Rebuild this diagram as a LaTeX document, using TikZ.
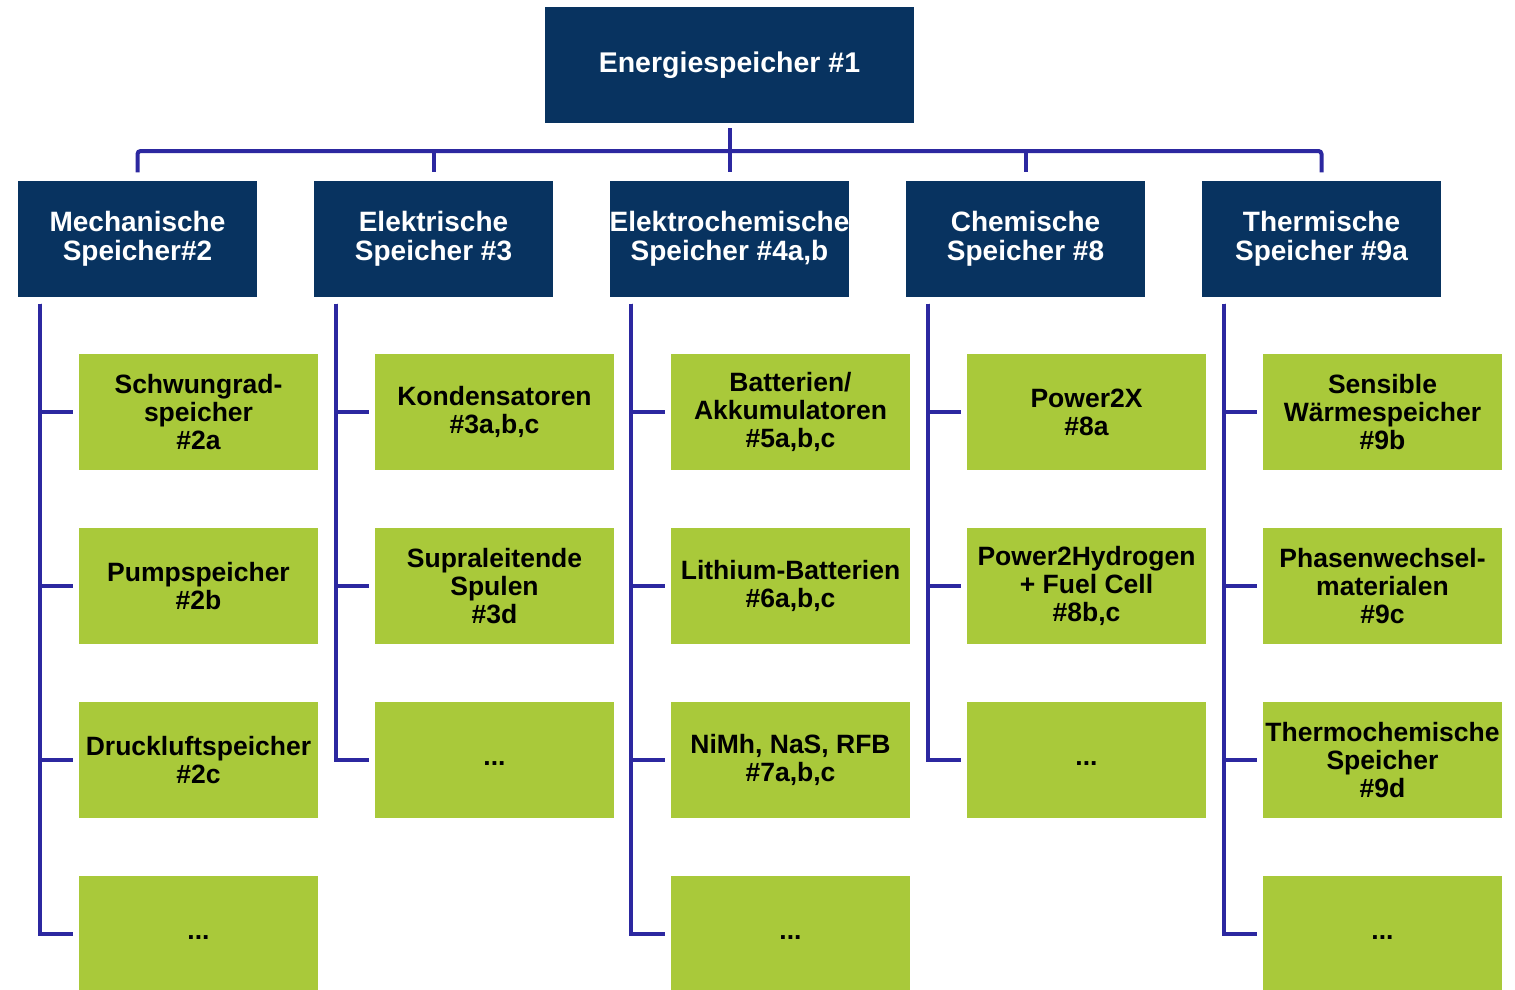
\documentclass[tikz,border=0pt]{standalone}
\usepackage{fontspec}
\setmainfont{Liberation Sans}
\definecolor{navy}{RGB}{8,51,96}
\definecolor{leaf}{RGB}{169,201,58}
\definecolor{wire}{RGB}{44,40,160}
\tikzset{x=1pt,y=-1pt,
  every node/.style={font=\bfseries\fontsize{26.5}{28}\selectfont,align=center,inner sep=0pt},
  top/.style={fill=navy,text=white,minimum width=369pt,minimum height=116pt,
              font=\bfseries\fontsize{28.5}{29}\selectfont},
  cat/.style={fill=navy,text=white,minimum width=239pt,minimum height=116pt,
              font=\bfseries\fontsize{28}{29}\selectfont},
  sub/.style={fill=leaf,text=black,minimum width=239pt,minimum height=116pt},
  link/.style={draw=wire,line width=4pt}}

\begin{document}
\begin{tikzpicture}
    \useasboundingbox (0,0) rectangle (1515,990);

    \node[top] (root) at (729.5,65) {Energiespeicher \#1};
    \foreach \i/\t in {0/{Mechanische\\Speicher\#2},1/{Elektrische\\Speicher \#3},
                       2/{Elektrochemische\\Speicher \#4a,b},3/{Chemische\\Speicher \#8},
                       4/{Thermische\\Speicher \#9a}}{
        \node[cat] (cat\i) at (137.5+296*\i,238.5) {\t};
    }

    % bus
    \coordinate (bus) at (729.5,151);
    \draw[link,rounded corners=3pt] ([yshift=8pt]cat0.north) |- (bus) -| ([yshift=8pt]cat4.north);
    \foreach \i in {1,2,3}{
        \draw[link] (bus -| cat\i.north) -- ([yshift=8pt]cat\i.north);
    }
    \draw[link] ([yshift=-5pt]root.south) -- ([yshift=8pt]cat2.north);

    % children
    \foreach \j/\t in {0/{Schwungrad-\\speicher\\\#2a},1/{Pumpspeicher\\\#2b},
                       2/{Druckluftspeicher\\\#2c},3/{\strut...}}{
        \node[sub] (sub0\j) at (198.5,412+174*\j) {\t};
    }
    \foreach \j/\t in {0/{Kondensatoren\\\#3a,b,c},1/{Supraleitende\\Spulen\\\#3d},2/{\strut...}}{
        \node[sub] (sub1\j) at (494.5,412+174*\j) {\t};
    }
    \foreach \j/\t in {0/{Batterien/\\Akkumulatoren\\\#5a,b,c},1/{Lithium-Batterien\\\#6a,b,c},
                       2/{NiMh, NaS, RFB\\\#7a,b,c},3/{\strut...}}{
        \node[sub] (sub2\j) at (790.5,412+174*\j) {\t};
    }
    \foreach \j/\t in {0/{Power2X\\\#8a},1/{Power2Hydrogen\\+ Fuel Cell\\\#8b,c},2/{\strut...}}{
        \node[sub] (sub3\j) at (1086.5,412+174*\j) {\t};
    }
    \foreach \j/\t in {0/{Sensible\\Wärmespeicher\\\#9b},1/{Phasenwechsel-\\materialen\\\#9c},
                       2/{Thermochemische\\Speicher\\\#9d},3/{\strut...}}{
        \node[sub] (sub4\j) at (1382.5,412+174*\j) {\t};
    }

    % spines
    \foreach \i/\n in {0/3,1/2,2/3,3/2,4/3}{
        \foreach \j in {0,...,\n}{
            \draw[link] ([xshift=22pt,yshift=-7pt]cat\i.south west) |- ([xshift=-6pt]sub\i\j.west);
        }
    }
\end{tikzpicture}
\end{document}
